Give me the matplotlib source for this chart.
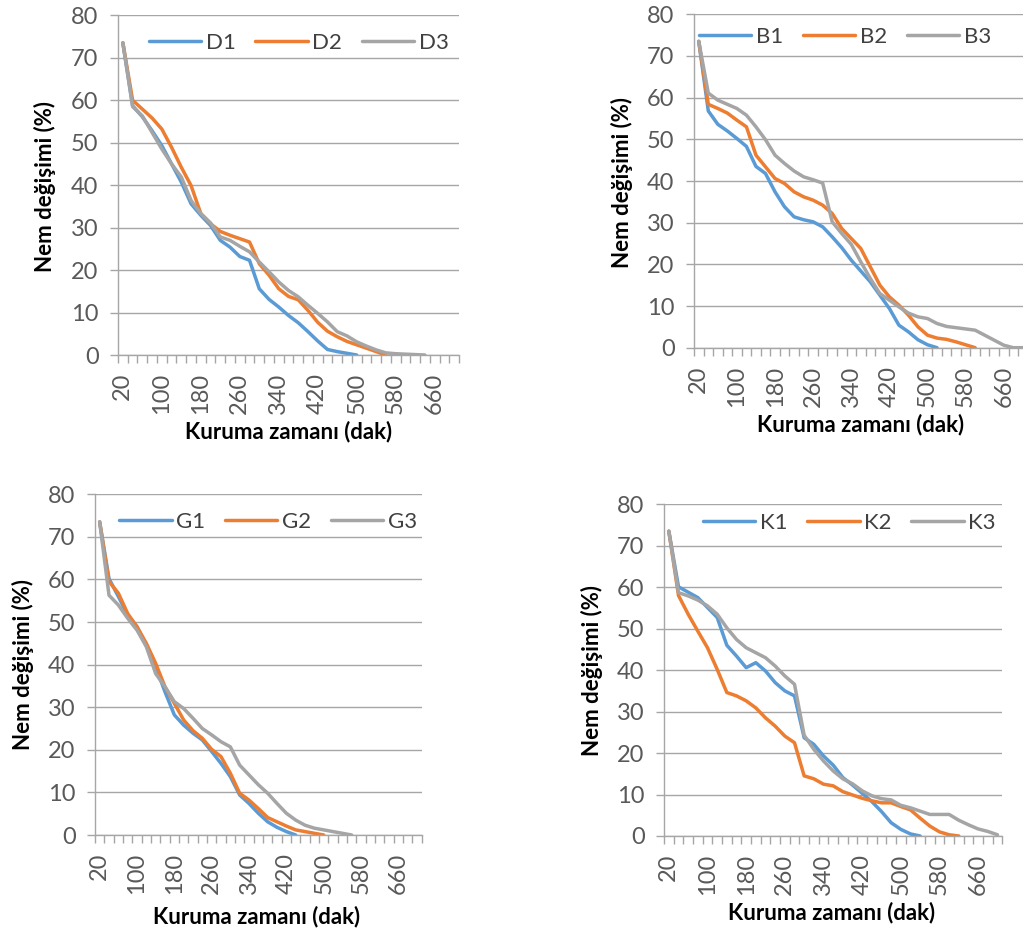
#drying curves for four sample groups (moisture change vs drying time)

#import libraries
import matplotlib
matplotlib.use("Agg")
import matplotlib.pyplot as plt

#data: drying time in minutes (category axis, step 20)
minutes = list(range(20, 720, 20))
tick_labels = ["20", "100", "180", "260", "340", "420", "500", "580", "660"]

D1 = [73.5, 58.7, 56.1, 52.8, 49.3, 45.0, 40.7, 35.6, 32.9, 30.5, 27.0, 25.4, 23.2, 22.3,
      15.6, 13.1, 11.3, 9.3, 7.6, 5.5, 3.3, 1.3, 0.8, 0.4, 0.0]
D2 = [73.5, 60.0, 57.9, 55.8, 53.2, 48.9, 44.2, 39.9, 33.3, 30.9, 29.1, 28.2, 27.4, 26.6,
      21.5, 18.8, 15.6, 13.8, 13.0, 10.5, 7.7, 5.6, 4.3, 3.2, 2.4, 1.6, 0.8, 0.0]
D3 = [73.5, 58.5, 56.3, 52.4, 48.5, 45.0, 41.9, 36.4, 33.3, 31.1, 27.8, 27.0, 25.6, 24.3,
      21.9, 19.6, 17.2, 15.2, 13.7, 11.7, 9.8, 7.8, 5.5, 4.5, 3.1, 2.1, 1.2, 0.5, 0.3, 0.2,
      0.1, 0.0]

B1 = [73.5, 56.8, 53.6, 52.0, 50.2, 48.3, 43.5, 41.8, 37.4, 33.8, 31.4, 30.7, 30.2, 29.0,
      26.6, 24.0, 21.0, 18.4, 15.8, 12.6, 9.4, 5.4, 3.8, 1.9, 0.7, 0.0]
B2 = [73.5, 58.4, 57.4, 56.3, 54.6, 53.0, 46.2, 43.4, 40.6, 39.4, 37.4, 36.2, 35.4, 34.2,
      32.2, 28.6, 26.2, 23.8, 19.4, 15.0, 12.2, 10.2, 7.8, 5.0, 3.0, 2.3, 2.0, 1.4, 0.7, 0.0]
B3 = [73.5, 61.1, 59.4, 58.4, 57.4, 55.8, 53.0, 49.9, 46.2, 44.2, 42.4, 41.0, 40.3, 39.5,
      30.2, 27.4, 24.8, 20.6, 16.6, 13.0, 11.4, 9.8, 8.3, 7.4, 7.0, 5.8, 5.1, 4.8, 4.5, 4.2,
      3.0, 1.8, 0.6, 0.0, 0.0]

G1 = [73.5, 60.2, 56.0, 51.6, 48.9, 44.6, 39.5, 33.6, 28.2, 25.8, 23.9, 22.3, 19.6, 16.8,
      13.7, 9.4, 7.4, 5.1, 3.1, 1.8, 0.8, 0.0]
G2 = [73.5, 59.5, 56.8, 52.0, 48.9, 45.0, 40.3, 34.8, 30.9, 27.0, 24.5, 22.7, 20.1, 18.4,
      14.5, 9.8, 8.2, 6.2, 4.1, 3.1, 2.1, 1.2, 0.8, 0.4, 0.0]
G3 = [73.5, 56.3, 54.0, 50.9, 48.1, 44.2, 37.9, 34.8, 31.3, 29.7, 27.4, 25.0, 23.5, 21.9,
      20.7, 16.4, 14.1, 11.8, 9.8, 7.4, 5.1, 3.5, 2.3, 1.6, 1.2, 0.8, 0.4, 0.0]

K1 = [73.5, 60.1, 58.8, 57.5, 55.1, 52.7, 46.0, 43.4, 40.6, 41.8, 39.8, 37.0, 35.0, 33.8,
      23.7, 22.1, 19.3, 17.1, 14.1, 12.3, 10.3, 8.3, 5.9, 3.2, 1.6, 0.5, 0.0]
K2 = [73.5, 58.0, 53.5, 49.4, 45.4, 40.2, 34.6, 33.8, 32.6, 30.9, 28.5, 26.5, 24.1, 22.5,
      14.5, 13.8, 12.5, 12.1, 10.7, 9.9, 9.1, 8.5, 8.0, 8.0, 7.1, 6.3, 4.3, 2.4, 1.0, 0.3,
      0.0]
K3 = [73.5, 58.7, 57.9, 56.9, 55.5, 53.5, 50.2, 47.4, 45.4, 44.2, 43.0, 41.0, 38.6, 36.6,
      24.3, 20.9, 18.1, 15.7, 13.8, 12.6, 10.9, 9.7, 9.0, 8.7, 7.4, 6.8, 6.0, 5.2, 5.2, 5.2,
      3.8, 2.7, 1.7, 1.1, 0.3]

colors = ["#5B9BD5", "#ED7D31", "#A5A5A5"]
grid_c = "#A6A6A6"
tick_c = "#595959"

plt.rcParams["font.family"] = ["Lato", "DejaVu Sans"]

W, H = 1023, 934
fig = plt.figure(figsize=(W / 100, H / 100), dpi=100)

def px_rect(left, top, right, bottom):
    return [left / W, 1 - bottom / H, (right - left) / W, (bottom - top) / H]

#panel setup: names, series, axes box (px), legend anchor, ylabel pos, xlabel pos
panels = [
    (["D1", "D2", "D3"], [D1, D2, D3], (118, 15.3, 459, 355), (0.53, 0.918), (45, 186), (289, 432)),
    (["B1", "B2", "B3"], [B1, B2, B3], (694, 14.3, 1027.6, 347.7), (0.453, 0.933), (622, 182), (861, 425)),
    (["G1", "G2", "G3"], [G1, G2, G3], (95, 494.3, 421.7, 835), (0.53, 0.92), (23, 665), (257, 917)),
    (["K1", "K2", "K3"], [K1, K2, K3], (664, 504.3, 1002.3, 836), (0.548, 0.943), (592, 671), (832, 913)),
]

for names, series, box, leg_pos, ylab, xlab in panels:
    ax = fig.add_axes(px_rect(*box))
    for name, vals, c in zip(names, series, colors):
        ax.plot(minutes[:len(vals)], vals, color=c, lw=2.5, label=name,
                solid_joinstyle="round", solid_capstyle="round")

    ax.set_xlim(10, 710)
    ax.set_ylim(0, 80)
    ax.set_yticks(range(0, 90, 10))
    ax.yaxis.grid(True, color=grid_c, lw=1.0)
    ax.set_axisbelow(True)

    #tick marks between categories, labels on every 4th category
    ax.set_xticks(range(10, 720, 20))
    ax.set_xticklabels([])
    ax.set_xticks([int(t) for t in tick_labels], minor=True)
    ax.set_xticklabels(tick_labels, minor=True, rotation=90)
    ax.tick_params(axis="x", which="major", length=6, width=1, color=grid_c, direction="out")
    ax.tick_params(axis="x", which="minor", length=0, pad=13, labelsize=17, labelcolor=tick_c)
    ax.tick_params(axis="y", length=6, width=1, color=grid_c, pad=8, labelsize=17, labelcolor=tick_c)

    for s in ["top", "right"]:
        ax.spines[s].set_visible(False)
    for s in ["left", "bottom"]:
        ax.spines[s].set_color(grid_c)
        ax.spines[s].set_linewidth(1.0)

    ax.legend(loc="center", bbox_to_anchor=leg_pos, ncol=3, frameon=False, fontsize=16,
              handlelength=2.35, handletextpad=0.2, columnspacing=0.9, borderaxespad=0,
              borderpad=0, labelcolor="#404040")

    fig.text(ylab[0] / W, 1 - ylab[1] / H, "Nem değişimi (%)", rotation=90, fontsize=16,
             fontweight="bold", ha="center", va="center")
    fig.text(xlab[0] / W, 1 - xlab[1] / H, "Kuruma zamanı (dak)", fontsize=16,
             fontweight="bold", ha="center", va="center")

plt.savefig("out.png", dpi=100)
